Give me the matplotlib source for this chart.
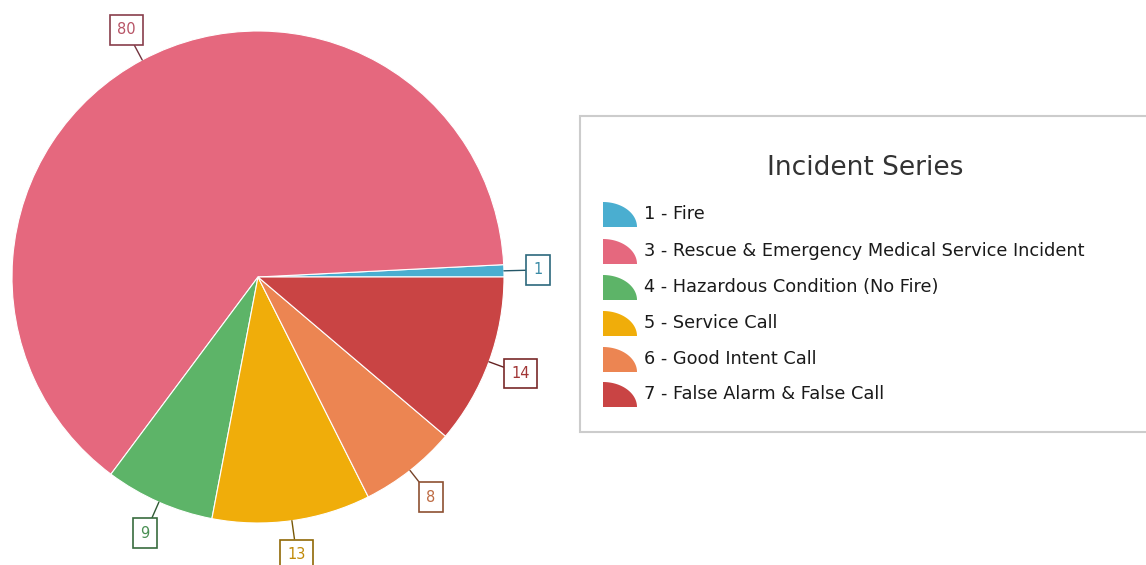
import numpy as np
import matplotlib
matplotlib.use("Agg")
import matplotlib.pyplot as plt
from matplotlib.patches import Rectangle, Polygon
from matplotlib.colors import to_rgb

# incidentes por serie
series = [
    "1 - Fire",
    "3 - Rescue & Emergency Medical Service Incident",
    "4 - Hazardous Condition (No Fire)",
    "5 - Service Call",
    "6 - Good Intent Call",
    "7 - False Alarm & False Call",
]
counts = [1, 80, 9, 13, 8, 14]
colors = ["#4aaed0", "#e5687e", "#5db468", "#f0ad0a", "#ec8552", "#c94444"]

W, H = 1146, 565


def darker(c, f):
    r, g, b = to_rgb(c)
    return (r * f, g * f, b * f)


fig = plt.figure(figsize=(W / 100, H / 100), dpi=100)
ax = fig.add_axes([0, 0, 1, 1])

cx, cy, R = 258, H - 277, 246
wedges, _ = ax.pie(counts, colors=colors, startangle=0, counterclock=True,
                   center=(cx, cy), radius=R,
                   wedgeprops=dict(edgecolor="white", linewidth=0.8))

# etiquetas con recuadro y linea guia
for w, v, c in zip(wedges, counts, colors):
    ang = np.deg2rad((w.theta1 + w.theta2) / 2)
    d = np.array([np.cos(ang), np.sin(ang)])
    p0 = np.array([cx, cy]) + d * R
    p1 = np.array([cx, cy]) + d * (R + 34)
    ax.annotate(str(v), xy=p0, xytext=p1, ha="center", va="center",
                fontsize=10.5, color=darker(c, 0.8),
                bbox=dict(boxstyle="square,pad=0.5", fc="white",
                          ec=darker(c, 0.6), lw=1.2),
                arrowprops=dict(arrowstyle="-", color=darker(c, 0.5),
                                lw=1, shrinkA=0, shrinkB=0))

# leyenda
ax.add_patch(Rectangle((580, H - 432), 600, 316, fc="white",
                       ec="#cccccc", lw=1.5))
ax.text(865, H - 168, "Incident Series", ha="center", va="center",
        fontsize=19, color="#333333")
rows = [214, 251, 287, 323, 359, 394]
t = np.linspace(0, np.pi / 2, 30)
for y, lab, c in zip(rows, series, colors):
    x0, y0 = 603, H - (y + 13)
    pts = [(x0, y0)] + [(x0 + 34 * np.cos(a), y0 + 25 * np.sin(a)) for a in t]
    ax.add_patch(Polygon(pts, closed=True, fc=c, ec="none"))
    ax.text(644, H - y, lab, ha="left", va="center", fontsize=12.8,
            color="#1a1a1a")

ax.set_xlim(0, W)
ax.set_ylim(0, H)
ax.set_aspect("auto")
ax.axis("off")

fig.savefig("out.png", dpi=100)
